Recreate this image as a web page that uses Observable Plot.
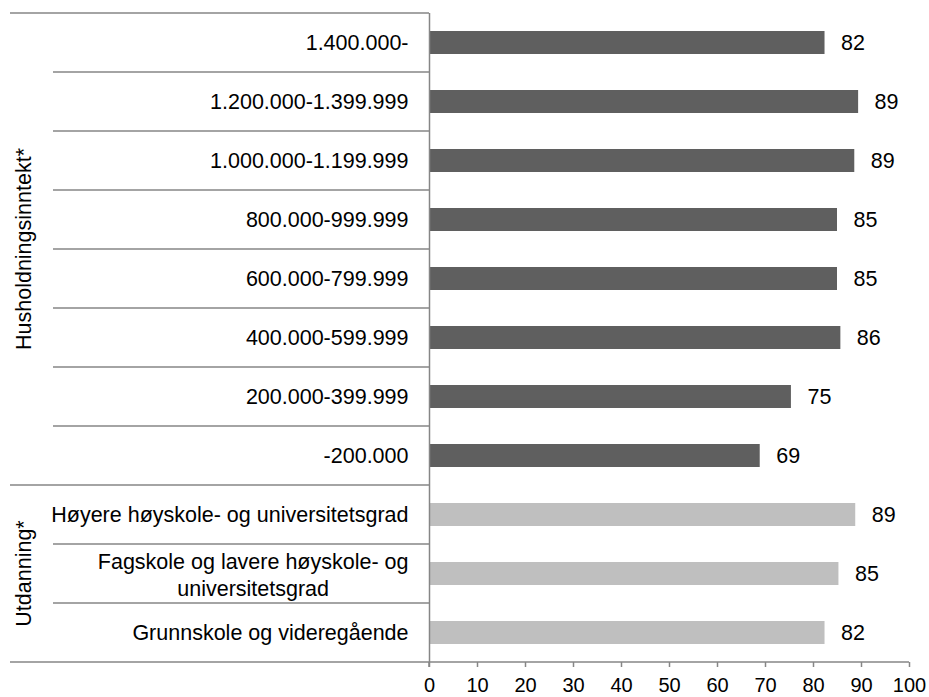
<!DOCTYPE html>
<html><head><meta charset="utf-8">
<script src="https://cdn.jsdelivr.net/npm/d3@7"></script>
<script src="https://cdn.jsdelivr.net/npm/@observablehq/plot@0.6"></script>
<style>
html,body{margin:0;padding:0;background:#fff}
svg{display:block}
</style>
</head><body><div id="chart"></div>
<script>
// ---- data ----
const categories = [
  "1.400.000-",
  "1.200.000-1.399.999",
  "1.000.000-1.199.999",
  "800.000-999.999",
  "600.000-799.999",
  "400.000-599.999",
  "200.000-399.999",
  "-200.000",
  "Høyere høyskole- og universitetsgrad",
  "Fagskole og lavere høyskole- og\nuniversitetsgrad",
  "Grunnskole og videregående"
];
const groups = [
  "Husholdningsinntekt*","Husholdningsinntekt*","Husholdningsinntekt*","Husholdningsinntekt*",
  "Husholdningsinntekt*","Husholdningsinntekt*","Husholdningsinntekt*","Husholdningsinntekt*",
  "Utdanning*","Utdanning*","Utdanning*"
];
const values = [82.4, 89.4, 88.6, 85.0, 85.0, 85.7, 75.4, 68.9, 88.8, 85.3, 82.4];
const groupNames = ["Husholdningsinntekt*", "Utdanning*"];
const xTicks = [0, 10, 20, 30, 40, 50, 60, 70, 80, 90, 100];

const data = categories.map((c, i) => ({category: c, group: groups[i], value: values[i]}));

// ---- style ----
const FONT = "'Liberation Sans', Arial, sans-serif";
const FS = 21.5;
const TICK_FS = 20;
const LINE = "#868686";
const W = 929, H = 697, ML = 429, MR = 20, MT = 13, MB = 35;
const LABEL_GAP = 21;

// measure multi-line label width for centred lines
const ctx = document.createElement("canvas").getContext("2d");
ctx.font = `${FS}px ${FONT}`;
const maxLineWidth = s => d3.max(s.split("\n"), l => ctx.measureText(l).width);

const single = data.filter(d => !d.category.includes("\n"));
const multi = data.filter(d => d.category.includes("\n"));

const marks = [
  Plot.barX(data, {x: "value", y: "category", fill: "group"}),
  Plot.text(data, {x: "value", y: "category", text: d => d3.format(".0f")(d.value),
    textAnchor: "start", dx: 16, fill: "#000"}),
  Plot.text(single, {y: "category", text: "category", frameAnchor: "left",
    textAnchor: "end", dx: -LABEL_GAP, fill: "#000"}),
  ...multi.map(d => Plot.text([d], {y: "category", text: "category", frameAnchor: "left",
    textAnchor: "middle", lineHeight: 1.22, dx: -LABEL_GAP - maxLineWidth(d.category) / 2, fill: "#000"})),
  Plot.ruleX([0], {stroke: LINE, strokeWidth: 1.5}),
  Plot.axisX({ticks: xTicks, tickSize: 5, tickPadding: 10, stroke: LINE, strokeWidth: 1.5,
    fill: "#000", fontSize: TICK_FS, label: null})
];

const chart = Plot.plot({
  width: W, height: H,
  marginLeft: ML, marginRight: MR, marginTop: MT, marginBottom: MB,
  style: {fontFamily: FONT, fontSize: FS + "px", color: "#000", background: "#fff", overflow: "visible"},
  x: {domain: [0, 100]},
  y: {domain: categories, paddingInner: 0.61, paddingOuter: 0.305, axis: null},
  color: {domain: groupNames, range: ["#5f5f5f", "#bfbfbf"]},
  marks
});

document.getElementById("chart").appendChild(chart);

// ---- separators and group labels, positioned from the y scale ----
const ys = chart.scale("y");
const xs = chart.scale("x");
const step = ys.step, bw = ys.bandwidth;
const rowTop = c => ys.apply(c) + bw / 2 - step / 2;
const rowBottom = c => ys.apply(c) + bw / 2 + step / 2;
const svg = d3.select(chart);
const g = svg.append("g").attr("stroke", LINE).attr("stroke-width", 1.5);
const x0 = xs.apply(0);
const groupX = 10, innerX = 53;
categories.forEach((c, i) => {
  const first = i === 0 || groups[i - 1] !== groups[i];
  g.append("line").attr("x1", first ? groupX : innerX).attr("x2", x0)
    .attr("y1", rowTop(c)).attr("y2", rowTop(c));
});
const lastCat = categories[categories.length - 1];
g.append("line").attr("x1", groupX).attr("x2", xs.apply(100))
  .attr("y1", rowBottom(lastCat)).attr("y2", rowBottom(lastCat));
g.append("line").attr("x1", x0).attr("x2", x0)
  .attr("y1", rowBottom(lastCat)).attr("y2", rowBottom(lastCat) + 5);

groupNames.forEach(name => {
  const cats = categories.filter((c, i) => groups[i] === name);
  const yc = (rowTop(cats[0]) + rowBottom(cats[cats.length - 1])) / 2;
  svg.append("text")
    .attr("transform", `translate(23.5,${yc}) rotate(-90)`)
    .attr("text-anchor", "middle").attr("dy", "0.35em")
    .attr("font-family", FONT).attr("font-size", FS).attr("fill", "#000")
    .text(name);
});
</script>
</body></html>
